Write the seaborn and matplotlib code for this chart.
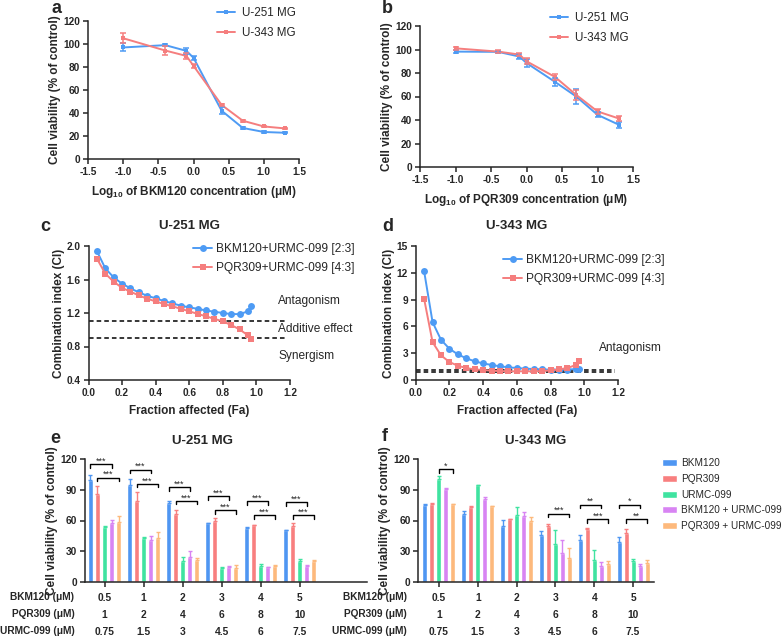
import numpy as np
import pandas as pd
import matplotlib
matplotlib.use("Agg")
import matplotlib.pyplot as plt
import seaborn as sns

sns.set_style("ticks")
plt.rcParams["font.family"] = ["Liberation Sans", "DejaVu Sans"]
plt.rcParams["font.weight"] = "bold"
plt.rcParams["axes.labelweight"] = "bold"
plt.rcParams["mathtext.default"] = "regular"
plt.rcParams["axes.linewidth"] = 1.1
plt.rcParams["xtick.major.width"] = 1.1
plt.rcParams["ytick.major.width"] = 1.1
plt.rcParams["xtick.major.size"] = 3.5
plt.rcParams["ytick.major.size"] = 3.5
plt.rcParams["xtick.labelsize"] = 7.3
plt.rcParams["ytick.labelsize"] = 7.3
plt.rcParams["axes.labelsize"] = 8.5

# ---- dose response (a, b) ----
logc = [-1.0, -0.4, -0.1, 0.0, 0.4, 0.7, 1.0, 1.3]
cell_lines = ["U-251 MG", "U-343 MG"]
a_u251 = [97, 99, 94, 88, 42, 27, 23.5, 22.8]
a_u251_sd = [3.5, 1, 2.5, 1.5, 3, 1, 1, 0.5]
a_u343 = [105, 94.3, 89.6, 81, 47, 33.3, 28.3, 26.6]
a_u343_sd = [4.5, 4, 2.5, 2, 1, 1, 0.5, 0.5]
b_u251 = [98.2, 98, 94, 88.5, 72.5, 60, 44.4, 36]
b_u251_sd = [1.5, 1, 2, 3, 3.5, 6, 2, 2.5]
b_u343 = [101, 98.2, 95.7, 90, 76.7, 61.4, 47.3, 41.3]
b_u343_sd = [1.5, 1, 1.5, 2.5, 2.5, 4, 2, 2]

# ---- combination index (c, d) ----
fa = [0.05, 0.10, 0.15, 0.20, 0.25, 0.30, 0.35, 0.40, 0.45, 0.50,
      0.55, 0.60, 0.65, 0.70, 0.75, 0.80, 0.85, 0.90, 0.95, 0.97]
combos = ["BKM120+URMC-099 [2:3]", "PQR309+URMC-099 [4:3]"]
c_bkm = [1.94, 1.733, 1.625, 1.55, 1.494, 1.446, 1.406, 1.375, 1.343, 1.315,
         1.287, 1.267, 1.25, 1.23, 1.215, 1.2, 1.187, 1.187, 1.22, 1.28]
c_pqr = [1.85, 1.67, 1.574, 1.50, 1.454, 1.41, 1.37, 1.339, 1.307, 1.28,
         1.25, 1.22, 1.19, 1.16, 1.13, 1.10, 1.056, 1.004, 0.932, 0.884]
d_bkm = [12.17, 6.48, 4.5, 3.5, 2.87, 2.43, 2.09, 1.86, 1.68, 1.53,
         1.42, 1.34, 1.27, 1.23, 1.19, 1.16, 1.16, 1.16, 1.23, 1.27]
d_pqr = [9.08, 4.24, 2.76, 2.01, 1.6, 1.34, 1.19, 1.12, 1.04, 1.0,
         0.97, 0.97, 0.97, 0.97, 1.0, 1.08, 1.19, 1.34, 1.68, 2.09]
ci_bounds = [0.9, 1.1]

# ---- bar charts (e, f) ----
treatments = ["BKM120", "PQR309", "URMC-099", "BKM120 + URMC-099", "PQR309 + URMC-099"]
bkm_doses = ["0.5", "1", "2", "3", "4", "5"]
pqr_doses = ["1", "2", "4", "6", "8", "10"]
urmc_doses = ["0.75", "1.5", "3", "4.5", "6", "7.5"]

e_vals = [[100, 95, 77, 57.5, 52.3, 50.6],
          [86, 79.5, 66, 59.2, 55.6, 55],
          [53.3, 42.4, 20, 13.1, 15.8, 20],
          [57.2, 40.8, 24, 14.1, 14.1, 15.8],
          [58.8, 42.7, 21, 13.8, 15.8, 20]]
e_sd = [[5, 5.3, 2, 0.5, 1, 0.4],
        [8, 8.3, 4.3, 3.3, 0.4, 2.2],
        [1.2, 1.6, 4.7, 1.7, 2, 2],
        [3.6, 4.2, 6.2, 1.4, 0.7, 1],
        [6, 5.6, 2.3, 2.3, 1, 1.7]]
f_vals = [[75, 66.4, 55, 45.4, 40.8, 38.8],
          [76.3, 73.6, 61.5, 55, 51.6, 48],
          [100.3, 94.7, 65, 37.1, 21, 20],
          [90.7, 80.9, 64.4, 28.3, 15.5, 15.5],
          [76.3, 74, 59.2, 23.7, 17.1, 18.7]]
f_sd = [[1.6, 3.3, 5.5, 4.6, 5.2, 5.2],
        [1.3, 0.4, 0.2, 1.9, 0.7, 3.3],
        [3.2, 0.3, 8.3, 13.9, 9.6, 2.3],
        [1.3, 2.3, 4, 12.8, 3.9, 1.9],
        [0.3, 0.3, 3.8, 9.5, 3.6, 2.7]]
# (group, first treatment, second treatment, bracket height, label)
e_sig = [(0, 0, 3, 115.4, "***"), (0, 1, 4, 102, "***"),
         (1, 0, 3, 110, "***"), (1, 1, 4, 96, "***"),
         (2, 0, 3, 92.7, "***"), (2, 1, 4, 79.2, "***"),
         (3, 0, 3, 83.8, "***"), (3, 1, 4, 70, "***"),
         (4, 0, 3, 78.9, "***"), (4, 1, 4, 65, "***"),
         (5, 0, 3, 78.2, "***"), (5, 1, 4, 65, "***")]
f_sig = [(0, 2, 4, 110.5, "*"), (3, 1, 4, 66.7, "***"),
         (4, 0, 3, 75.6, "**"), (4, 1, 4, 61.2, "***"),
         (5, 0, 3, 75.6, "*"), (5, 1, 4, 61, "**")]

line_colors = ["#4E9BF4", "#F57E7E"]
bar_colors = ["#4F96F2", "#F87F7F", "#3FE3A0", "#D884F3", "#FDB97C"]

W, H = 784, 638


def box(l, t, r, b):
    return [l / W, 1 - b / H, (r - l) / W, (b - t) / H]


def fxy(x, y):
    return (x / W, 1 - y / H)


fig = plt.figure(figsize=(W / 100, H / 100), dpi=100)


def style(ax):
    sns.despine(ax=ax)
    ax.tick_params(direction="out", pad=2)


def dose_panel(ax, u251, u251_sd, u343, u343_sd, drug, leg_xy):
    df = pd.DataFrame({"logc": logc * 2, "viab": u251 + u343,
                       "line": [cell_lines[0]] * len(logc) + [cell_lines[1]] * len(logc)})
    sns.lineplot(data=df, x="logc", y="viab", hue="line", palette=line_colors,
                 marker="s", markersize=2.5, markeredgewidth=0, linewidth=1.4, ax=ax)
    for vals, sd, col in [(u251, u251_sd, line_colors[0]), (u343, u343_sd, line_colors[1])]:
        ax.errorbar(logc, vals, yerr=sd, fmt="none", ecolor=col, elinewidth=1.1,
                    capsize=2.2, capthick=1.1)
    ax.set_xlim(-1.5, 1.5)
    ax.set_ylim(0, 120)
    ax.set_xticks(np.arange(-1.5, 1.51, 0.5))
    ax.set_xticklabels([f"{v:.1f}" for v in np.arange(-1.5, 1.51, 0.5)])
    ax.set_yticks(range(0, 121, 20))
    ax.set_xlabel(f"Log$_{{10}}$ of {drug} concentration (\u03bcM)", labelpad=5)
    ax.set_ylabel("Cell viability (% of control)", labelpad=1.5)
    style(ax)
    sns.move_legend(ax, "upper left", bbox_to_anchor=fxy(*leg_xy), bbox_transform=fig.transFigure,
                    frameon=False, title=None, prop={"weight": "normal", "size": 8.4},
                    handlelength=1.55, handletextpad=0.6, labelspacing=0.7,
                    borderpad=0, borderaxespad=0)


def ci_panel(ax, bkm, pqr, title, ylim, yticks, fmt, leg_xy, notes):
    df = pd.DataFrame({"fa": fa * 2, "ci": bkm + pqr,
                       "combo": [combos[0]] * len(fa) + [combos[1]] * len(fa)})
    ax.hlines(ci_bounds, 0, 1.18, colors="black", linestyles=(0, (3, 2)), linewidth=1.1,
              clip_on=False)
    sns.lineplot(data=df, x="fa", y="ci", hue="combo", style="combo", markers=["o", "s"],
                 dashes=False, palette=line_colors, markersize=5, markeredgewidth=0,
                 linewidth=1.4, ax=ax)
    ax.set_xlim(0, 1.2)
    ax.set_ylim(*ylim)
    ax.set_xticks(np.arange(0, 1.21, 0.2))
    ax.set_xticklabels([f"{v:.1f}" for v in np.arange(0, 1.21, 0.2)])
    ax.set_yticks(yticks)
    ax.set_yticklabels([fmt.format(v) for v in yticks])
    ax.set_xlabel("Fraction affected (Fa)", labelpad=5)
    ax.set_ylabel("Combination index (CI)", labelpad=1.5)
    ax.set_title(title, fontsize=9.5, fontweight="bold", pad=12)
    for x, y, txt in notes:
        ax.text(x, y, txt, fontsize=8.6, fontweight="normal", va="center", ha="left")
    style(ax)
    sns.move_legend(ax, "upper left", bbox_to_anchor=fxy(*leg_xy), bbox_transform=fig.transFigure,
                    frameon=False, title=None, prop={"weight": "normal", "size": 8.6},
                    handlelength=1.6, handletextpad=0.35, labelspacing=0.62,
                    borderpad=0, borderaxespad=0)


def bar_panel(ax, vals, sds, sig, title, xlim, show_legend):
    grp, trt, val = [], [], []
    for name, series in zip(treatments, vals):
        for i, v in enumerate(series):
            grp.append(i)
            trt.append(name)
            val.append(v)
    df = pd.DataFrame({"group": grp, "treatment": trt, "viab": val})
    sns.barplot(data=df, x="group", y="viab", hue="treatment", hue_order=treatments,
                palette=bar_colors, errorbar=None, width=0.9, gap=0.3, saturation=1,
                legend=show_legend, ax=ax)
    bar_conts = list(ax.containers)
    bars = []
    for h, cont in enumerate(bar_conts):
        patches = sorted(cont.patches, key=lambda p: p.get_x())
        xs = [p.get_x() + p.get_width() / 2 for p in patches]
        ys = [p.get_height() for p in patches]
        bars.append(xs)
        ax.errorbar(xs, ys, yerr=[np.zeros(len(ys)), sds[h]], fmt="none", ecolor=bar_colors[h],
                    elinewidth=1, capsize=1.6, capthick=1)
    for g, h1, h2, y, lab in sig:
        x1, x2 = bars[h1][g], bars[h2][g]
        ax.plot([x1, x1, x2, x2], [y - 3.5, y, y, y - 3.5], color="black", linewidth=1)
        ax.text((x1 + x2) / 2, y - 1.5, lab, ha="center", va="bottom", fontsize=6.5,
                fontweight="normal")
    ax.set_xlim(*xlim)
    ax.set_ylim(0, 120)
    ax.set_yticks(range(0, 121, 30))
    ax.set_xticks(range(6))
    ax.set_xticklabels([f"{b}\n{p}\n{u}" for b, p, u in zip(bkm_doses, pqr_doses, urmc_doses)],
                       linespacing=1.88, fontsize=7.4)
    ax.set_xlabel("")
    ax.set_ylabel("Cell viability (% of control)", labelpad=2)
    ax.text(2.5, 132, title, ha="center", va="bottom", fontsize=9.5, fontweight="bold")
    style(ax)
    ax.tick_params(axis="x", pad=4.5)


ax_a = fig.add_axes(box(88, 21, 299, 159))
dose_panel(ax_a, a_u251, a_u251_sd, a_u343, a_u343_sd, "BKM120", (217, 7))
ax_b = fig.add_axes(box(420, 26, 633, 167))
dose_panel(ax_b, b_u251, b_u251_sd, b_u343, b_u343_sd, "PQR309", (550, 12))

ax_c = fig.add_axes(box(88.5, 246, 290, 380))
ci_panel(ax_c, c_bkm, c_pqr, "U-251 MG", (0.4, 2.0), [0.4, 0.8, 1.2, 1.6, 2.0], "{:.1f}",
         (193, 243), [(1.13, 1.34, "Antagonism"), (1.13, 1.01, "Additive effect"),
                      (1.13, 0.69, "Synergism")])
ax_d = fig.add_axes(box(415.7, 246, 618, 380))
ci_panel(ax_d, d_bkm, d_pqr, "U-343 MG", (0, 15), [0, 3, 6, 9, 12, 15], "{:d}",
         (503, 254), [(1.09, 3.6, "Antagonism")])

ax_e = fig.add_axes(box(85, 459.3, 367, 581.7))
bar_panel(ax_e, e_vals, e_sd, e_sig, "U-251 MG", (-0.5, 6.72), False)
ax_f = fig.add_axes(box(418.3, 459.3, 653.7, 581.7))
bar_panel(ax_f, f_vals, f_sd, f_sig, "U-343 MG", (-0.53, 5.53), True)
sns.move_legend(ax_f, "upper left", bbox_to_anchor=fxy(662, 458), bbox_transform=fig.transFigure,
                frameon=False, title=None, prop={"weight": "normal", "size": 7.2},
                handlelength=1.45, handleheight=0.7, handletextpad=0.45, labelspacing=0.58,
                borderpad=0, borderaxespad=0)

row_labels = "BKM120 (\u03bcM)\nPQR309 (\u03bcM)\nURMC-099 (\u03bcM)"
for x in (74.5, 407):
    fig.text(x / W, 1 - 591.5 / H, row_labels, ha="right", va="top", fontsize=7.3,
             fontweight="bold", linespacing=1.9, multialignment="right")

for letter, (x, y) in zip("abcdef", [(52, 0), (382, 0), (40, 218), (382, 218), (50, 430), (382, 428)]):
    fig.text(x / W, 1 - y / H, letter, ha="left", va="top", fontsize=13, fontweight="bold")

fig.savefig("out.png", dpi=100)
